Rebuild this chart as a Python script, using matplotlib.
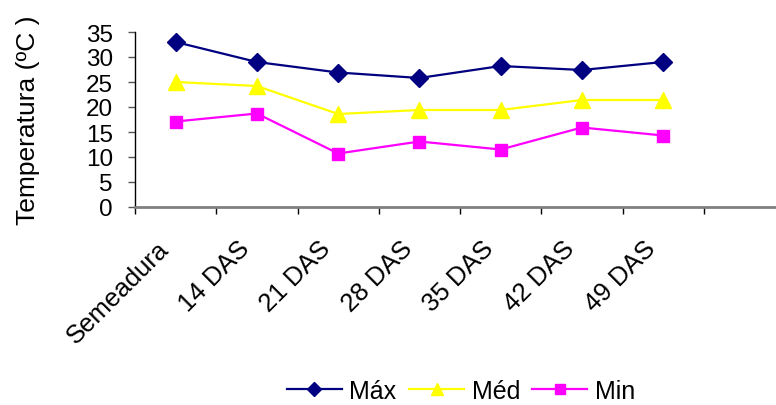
import matplotlib
matplotlib.use("Agg")
import matplotlib.pyplot as plt
import matplotlib.transforms as mtransforms
import numpy as np

plt.rcParams['font.family'] = ['Liberation Sans', 'DejaVu Sans']

categories = ["Semeadura", "14 DAS", "21 DAS", "28 DAS", "35 DAS", "42 DAS", "49 DAS"]
t_max = [33.0, 29.0, 26.9, 25.8, 28.2, 27.4, 29.0]
t_med = [25.0, 24.2, 18.6, 19.4, 19.4, 21.4, 21.4]
t_min = [17.1, 18.7, 10.7, 13.1, 11.5, 15.9, 14.3]
yticks = [0, 5, 10, 15, 20, 25, 30, 35]

W, H = 776, 406
fig = plt.figure(figsize=(W / 100, H / 100), dpi=100)
ax = fig.add_axes([135 / W, (H - 208) / H, (785 - 135) / W, 175 / H])

x = np.arange(len(categories))
ax.plot(x, t_max, color='#000080', lw=1.6, marker='D', ms=9, label='Máx', clip_on=False)
ax.plot(x, t_med, color='#FFFF00', lw=1.6, marker='^', ms=11, label='Méd', clip_on=False)
ax.plot(x, t_min, color='#FF00FF', lw=1.6, marker='s', ms=9, label='Min', clip_on=False)

ax.set_xlim(-0.5, len(categories) + 0.5)
ax.set_ylim(0, 35)
ax.set_yticks(yticks)
ax.set_yticklabels([str(v) for v in yticks], fontsize=17.5)

ax.set_xticks(np.arange(-0.5, len(categories) + 1, 1.0))
ax.set_xticklabels([])
ax.set_xticks(x, minor=True)
ax.set_xticklabels(categories, minor=True, fontsize=18.5, rotation=45,
                   ha='right', va='center', rotation_mode='anchor')
ax.tick_params(axis='x', which='minor', length=0, pad=27)
ax.tick_params(axis='x', which='major', length=5, width=1, color='black', direction='out')
ax.tick_params(axis='y', length=5, width=1, color='#555555', direction='out', pad=11)

shift = mtransforms.ScaledTranslation(-11 / 100, 0, fig.dpi_scale_trans)
for lab in ax.get_xticklabels(minor=True):
    lab.set_transform(lab.get_transform() + shift)

for s in ['top', 'right']:
    ax.spines[s].set_visible(False)
ax.spines['left'].set_color('black')
ax.spines['left'].set_linewidth(1)
ax.spines['bottom'].set_color('#808080')
ax.spines['bottom'].set_linewidth(2)

ax.set_ylabel('Temperatura (ºC )', fontsize=19)
ax.yaxis.set_label_coords(-0.146, 0.5)

leg = fig.legend(loc='center', bbox_to_anchor=(461 / W, (H - 392) / H), ncol=3,
                 frameon=False, fontsize=18, handlelength=2.2, handletextpad=0.3,
                 columnspacing=0.5, markerscale=0.8)

fig.savefig('out.png', dpi=100)
